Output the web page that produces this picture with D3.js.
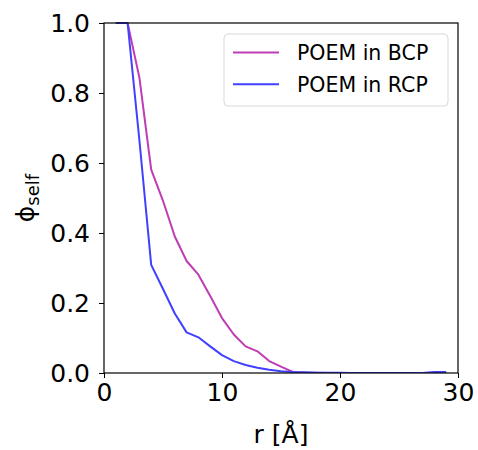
<!DOCTYPE html>
<html><head><meta charset="utf-8">
<script src="https://cdn.jsdelivr.net/npm/d3@7"></script>
<style>body{margin:0;background:#fff}svg{display:block}text{font-family:"DejaVu Sans",sans-serif}</style>
</head><body>
<script>
const r = [1,2,3,4,5,6,7,8,9,10,11,12,13,14,15,16,17,18,19,20,21,22,23,24,25,26,27,28,29];
const bcp = [1,1,0.844,0.581,0.492,0.39,0.32,0.281,0.22,0.157,0.11,0.076,0.062,0.034,0.018,0.003,0.001,0.0005,0,0,0,0,0,0,0,0,0,0,0];
const rcp = [1,1,0.665,0.309,0.24,0.17,0.116,0.102,0.076,0.051,0.034,0.023,0.015,0.009,0.005,0.003,0.002,0.001,0.001,0.0005,0,0,0,0,0,0,0,0.003,0.003];
const seriesNames = ["POEM in BCP","POEM in RCP"];
const colors = ["#c03cb4","#4040ff"];
const xTicks = [0,10,20,30];
const yTicks = [0,0.2,0.4,0.6,0.8,1.0];

const W=478,H=450, m={l:104,r:20,t:23,b:77};
const svg=d3.select("body").append("svg").attr("width",W).attr("height",H);
const x=d3.scaleLinear().domain([0,30]).range([m.l,W-m.r]);
const y=d3.scaleLinear().domain([0,1]).range([H-m.b,m.t]);

const clip=svg.append("clipPath").attr("id","c").append("rect")
  .attr("x",x(0)).attr("y",y(1)-1).attr("width",x(30)-x(0)).attr("height",y(0)-y(1)+1);
const line=d3.line().x((d,i)=>x(r[i])).y(d=>y(d));
[bcp,rcp].forEach((s,k)=>{
  svg.append("path").datum(s).attr("d",line).attr("fill","none")
    .attr("stroke",colors[k]).attr("stroke-width",2).attr("stroke-linejoin","round")
    .attr("clip-path","url(#c)");
});

const xa=svg.append("g").attr("transform",`translate(0,${y(0)})`)
  .call(d3.axisBottom(x).tickValues(xTicks).tickFormat(d3.format("d")).tickSize(5).tickPadding(5));
const ya=svg.append("g").attr("transform",`translate(${x(0)},0)`)
  .call(d3.axisLeft(y).tickValues(yTicks).tickFormat(d3.format(".1f")).tickSize(5).tickPadding(9));
[xa,ya].forEach(a=>{a.selectAll("text").attr("font-size",25).attr("fill","#000").attr("font-family","DejaVu Sans");
  a.select(".domain").remove(); a.selectAll("line").attr("stroke","#000");});
ya.selectAll("text").attr("dy","0.35em");
svg.append("rect").attr("x",x(0)).attr("y",y(1)).attr("width",x(30)-x(0)).attr("height",y(0)-y(1))
  .attr("fill","none").attr("stroke","#000").attr("stroke-width",1.2);

svg.append("text").attr("x",(x(0)+x(30))/2).attr("y",443).attr("text-anchor","middle")
  .attr("font-size",25).text("r [Å]");
const yl=svg.append("text").attr("transform",`translate(34,${(y(0)+y(1))/2}) rotate(-90)`)
  .attr("text-anchor","middle").attr("font-size",25);
yl.append("tspan").text("ϕ");
yl.append("tspan").attr("font-size",18).attr("dy",5).text("self");

const lg=svg.append("g");
lg.append("rect").attr("x",224).attr("y",34).attr("width",224).attr("height",72).attr("rx",4)
  .attr("fill","#fff").attr("fill-opacity",0.8).attr("stroke","#d9d9d9").attr("stroke-width",1);
seriesNames.forEach((n,k)=>{
  const yy=52.5+k*31.7;
  lg.append("line").attr("x1",233).attr("x2",279).attr("y1",yy).attr("y2",yy)
    .attr("stroke",colors[k]).attr("stroke-width",2);
  lg.append("text").attr("x",297).attr("y",yy).attr("dy","0.36em").attr("font-size",20.5).text(n);
});
</script>
</body></html>
